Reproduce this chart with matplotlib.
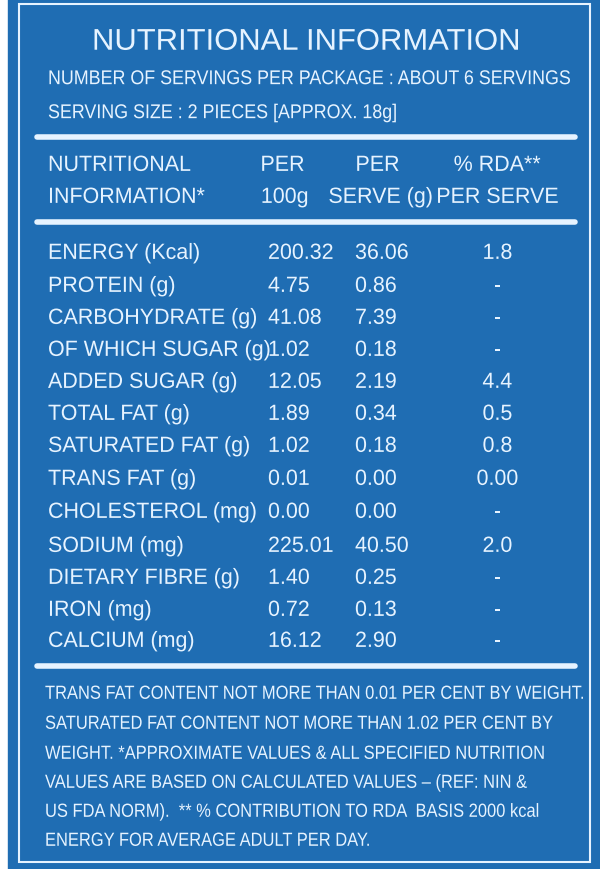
import matplotlib
matplotlib.use("Agg")
from matplotlib import pyplot as plt
from matplotlib.textpath import TextPath
from matplotlib.patches import PathPatch
from matplotlib.font_manager import FontProperties
from matplotlib.transforms import Affine2D

fp = FontProperties(family="Liberation Sans")
txt = "#e6f3ff"
bg = "#1f6db3"

names = ["ENERGY (Kcal)", "PROTEIN (g)", "CARBOHYDRATE (g)", "OF WHICH SUGAR (g)",
         "ADDED SUGAR (g)", "TOTAL FAT (g)", "SATURATED FAT (g)", "TRANS FAT (g)",
         "CHOLESTEROL (mg)", "SODIUM (mg)", "DIETARY FIBRE (g)", "IRON (mg)", "CALCIUM (mg)"]
per_100g = ["200.32", "4.75", "41.08", "1.02", "12.05", "1.89", "1.02", "0.01",
            "0.00", "225.01", "1.40", "0.72", "16.12"]
per_serve = ["36.06", "0.86", "7.39", "0.18", "2.19", "0.34", "0.18", "0.00",
             "0.00", "40.50", "0.25", "0.13", "2.90"]
rda = ["1.8", "-", "-", "-", "4.4", "0.5", "0.8", "0.00", "-", "2.0", "-", "-", "-"]
row_y = [252, 285, 317, 349, 381, 413, 445, 478, 511, 545, 577, 609, 640]

notes = ["TRANS FAT CONTENT NOT MORE THAN 0.01 PER CENT BY WEIGHT.",
         "SATURATED FAT CONTENT NOT MORE THAN 1.02 PER CENT BY",
         "WEIGHT. *APPROXIMATE VALUES & ALL SPECIFIED NUTRITION",
         "VALUES ARE BASED ON CALCULATED VALUES \u2013 (REF: NIN &",
         "US FDA NORM).  ** % CONTRIBUTION TO RDA  BASIS 2000 kcal",
         "ENERGY FOR AVERAGE ADULT PER DAY."]
note_y = [693, 723, 753, 782, 811, 840]

fig = plt.figure(figsize=(6, 8.7), dpi=100)
fig.patch.set_facecolor("white")
ax = fig.add_axes([0, 0, 1, 1])
ax.set_xlim(0, 600)
ax.set_ylim(870, 0)
ax.axis("off")

ax.add_patch(plt.Rectangle((8, 0), 592, 870, color=bg, zorder=0))
ax.add_patch(plt.Rectangle((19, 5), 571, 858, fill=False, ec=txt, lw=1.5, zorder=1))
for y, x1 in [(138, 575), (223, 575), (667, 575)]:
    ax.plot([37, x1], [y, y], color=txt, lw=4, solid_capstyle="round")

CAP = 0.716

def width1(s):
    return TextPath((0, 0), s, size=1, prop=fp).get_extents().x1

def t(x, y, s, px=22, sx=0.8, ha="left"):
    # condensed text drawn as a path, y is the vertical centre of the caps
    path = TextPath((0, 0), s, size=1, prop=fp)
    w = path.get_extents().x1 * px * sx
    if ha == "center":
        x -= w / 2
    tr = Affine2D().scale(px * sx, -px).translate(x, y + CAP * px / 2)
    ax.add_patch(PathPatch(tr.transform_path(path), fc=txt, ec="none", zorder=3))

# condense factors fitted to widths seen in the label
body_px = 22
body_sx = 208 / (width1("CARBOHYDRATE (g)") * body_px)
note_px = 19
note_sx = 538 / (width1(notes[0]) * note_px)
head_px = 20
head_sx = 522 / (width1("NUMBER OF SERVINGS PER PACKAGE : ABOUT 6 SERVINGS") * head_px)
title_px = 30
title_sx = 426 / (width1("NUTRITIONAL INFORMATION") * title_px)

t(305, 40, "NUTRITIONAL INFORMATION", px=title_px, sx=title_sx, ha="center")
t(48, 78, "NUMBER OF SERVINGS PER PACKAGE : ABOUT 6 SERVINGS", px=head_px, sx=head_sx)
t(48, 112, "SERVING SIZE : 2 PIECES [APPROX. 18g]", px=head_px, sx=head_sx)

b = dict(px=body_px, sx=body_sx)
t(48, 164, "NUTRITIONAL", **b)
t(48, 196, "INFORMATION*", **b)
t(282, 164, "PER", ha="center", **b)
t(284, 196, "100g", ha="center", **b)
t(377, 164, "PER", ha="center", **b)
t(380, 196, "SERVE (g)", ha="center", **b)
t(497, 164, "% RDA**", ha="center", **b)
t(497, 196, "PER SERVE", ha="center", **b)

for i, y in enumerate(row_y):
    t(48, y, names[i], **b)
    t(268, y, per_100g[i], **b)
    t(355, y, per_serve[i], **b)
    t(497, y, rda[i], ha="center", **b)

for s, y in zip(notes, note_y):
    t(45, y, s, px=note_px, sx=note_sx)

fig.savefig("out.png", dpi=100, facecolor=fig.get_facecolor())
